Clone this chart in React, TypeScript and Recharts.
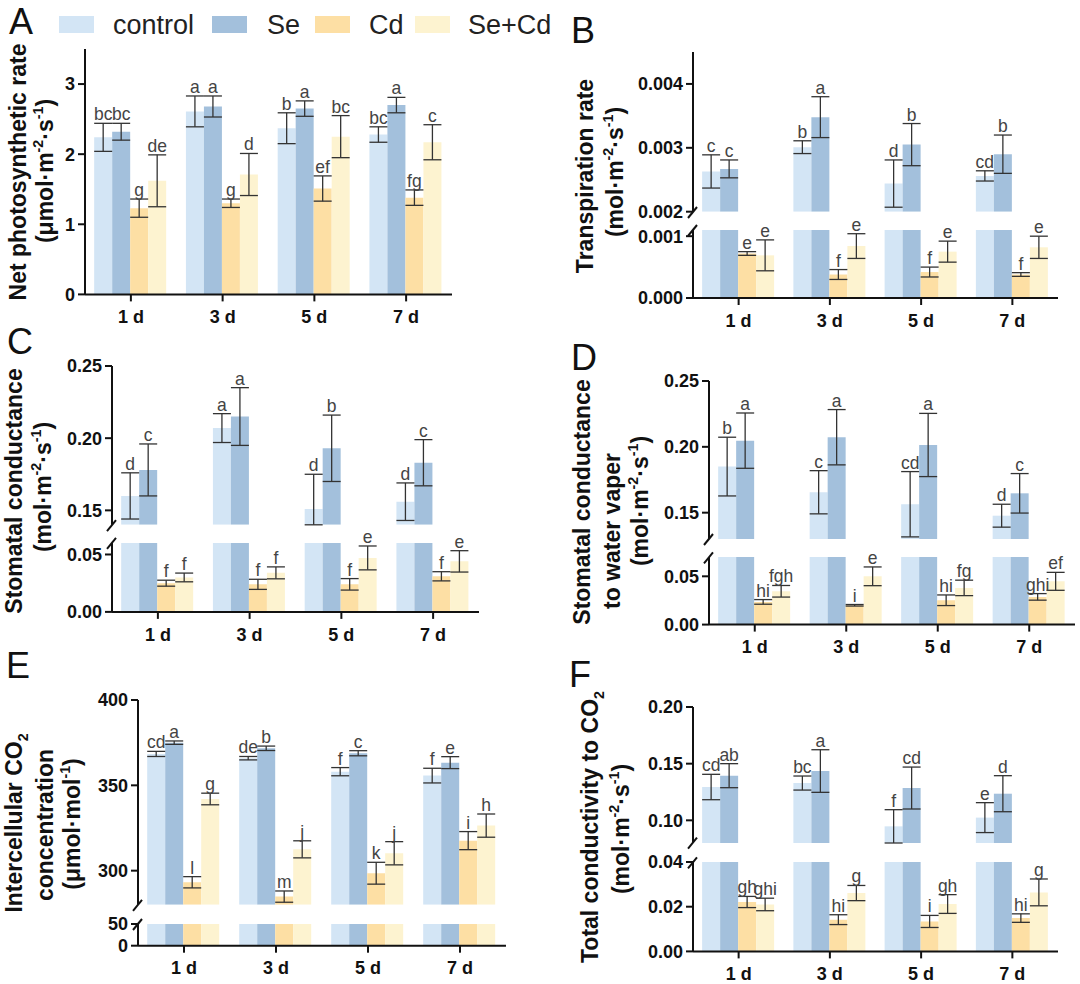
import React from 'react';
import { BarChart, Bar, XAxis, YAxis, ErrorBar, LabelList } from 'recharts';

const days = ['1 d', '3 d', '5 d', '7 d'];
const groups = ['control', 'Se', 'Cd', 'Se+Cd'];
const fills = ['#d3e5f5', '#a3c0dc', '#fddfa4', '#fdf3d0'];

// rows: control, Se, Cd, Se+Cd ; columns: 1 d, 3 d, 5 d, 7 d
// A - net photosynthetic rate
const pnMean = [
  [2.24, 2.61, 2.37, 2.28],
  [2.32, 2.68, 2.65, 2.7],
  [1.23, 1.3, 1.51, 1.38],
  [1.62, 1.71, 2.25, 2.17],
];
const pnErr = [
  [0.2, 0.22, 0.22, 0.11],
  [0.12, 0.15, 0.11, 0.11],
  [0.13, 0.06, 0.18, 0.11],
  [0.37, 0.3, 0.3, 0.25],
];
const pnSig = [
  ['bc', 'a', 'b', 'bc'],
  ['bc', 'a', 'a', 'a'],
  ['g', 'g', 'ef', 'fg'],
  ['de', 'd', 'bc', 'c'],
];

// B - transpiration rate
const trMean = [
  [0.00263, 0.00301, 0.00244, 0.00256],
  [0.00267, 0.00348, 0.00305, 0.0029],
  [0.00072, 0.00038, 0.00042, 0.00038],
  [0.00069, 0.00084, 0.00075, 0.00082],
];
const trErr = [
  [0.00026, 0.0001, 0.00037, 0.00008],
  [0.00014, 0.00032, 0.00033, 0.0003],
  [0.00003, 0.00008, 0.00008, 0.00003],
  [0.00025, 0.0002, 0.00017, 0.00018],
];
const trSig = [
  ['c', 'b', 'd', 'cd'],
  ['c', 'a', 'b', 'b'],
  ['e', 'f', 'f', 'f'],
  ['e', 'e', 'e', 'e'],
];

// C - stomatal conductance
const gsMean = [
  [0.16, 0.207, 0.151, 0.156],
  [0.178, 0.215, 0.193, 0.183],
  [0.025, 0.024, 0.024, 0.031],
  [0.03, 0.034, 0.047, 0.044],
];
const gsErr = [
  [0.016, 0.01, 0.024, 0.013],
  [0.018, 0.02, 0.023, 0.016],
  [0.0026, 0.0044, 0.005, 0.004],
  [0.0038, 0.0052, 0.0104, 0.0093],
];
const gsSig = [
  ['d', 'a', 'd', 'd'],
  ['c', 'a', 'b', 'c'],
  ['f', 'f', 'f', 'f'],
  ['f', 'f', 'e', 'e'],
];

// D - stomatal conductance to water vapour
const gwMean = [
  [0.185, 0.1655, 0.1564, 0.1477],
  [0.2047, 0.2073, 0.2014, 0.1647],
  [0.0235, 0.02, 0.0252, 0.0287],
  [0.0345, 0.05, 0.038, 0.0448],
];
const gwErr = [
  [0.0223, 0.0164, 0.0248, 0.0087],
  [0.021, 0.021, 0.024, 0.015],
  [0.0024, 0.0008, 0.0055, 0.0034],
  [0.006, 0.0097, 0.008, 0.0093],
];
const gwSig = [
  ['b', 'c', 'cd', 'd'],
  ['a', 'a', 'a', 'c'],
  ['hi', 'i', 'hi', 'ghi'],
  ['fgh', 'e', 'fg', 'ef'],
];

// E - intercellular CO2
const ciMean = [
  [368.4, 365.9, 358, 355.7],
  [375, 371.7, 368.8, 363.3],
  [293.2, 284.8, 298.5, 317.6],
  [342, 312.5, 310.2, 326.4],
];
const ciErr = [
  [1.5, 1, 2.4, 4.3],
  [1, 1.3, 1.5, 3.5],
  [3.3, 3.3, 6.4, 5.3],
  [3.4, 5, 6.8, 6.8],
];
const ciSig = [
  ['cd', 'de', 'f', 'f'],
  ['a', 'b', 'c', 'e'],
  ['l', 'm', 'k', 'i'],
  ['g', 'j', 'j', 'h'],
];

// F - total conductivity to CO2
const gtMean = [
  [0.1294, 0.1329, 0.0947, 0.1024],
  [0.1394, 0.1435, 0.1285, 0.1235],
  [0.0221, 0.0142, 0.0134, 0.0149],
  [0.021, 0.0261, 0.0212, 0.0264],
];
const gtErr = [
  [0.0112, 0.0062, 0.0147, 0.0132],
  [0.0106, 0.0188, 0.0185, 0.0159],
  [0.0025, 0.0022, 0.0027, 0.0019],
  [0.0028, 0.0034, 0.0042, 0.006],
];
const gtSig = [
  ['cd', 'bc', 'f', 'e'],
  ['ab', 'a', 'cd', 'd'],
  ['gh', 'hi', 'i', 'hi'],
  ['ghi', 'g', 'gh', 'g'],
];

const FONT = '"Liberation Sans", Arial, sans-serif';
const INK = '#111';

type Seg = { lo: number; hi: number; y0: number; y1: number; ticks: number[]; digits: number };

function makeRows(mean: number[][], err: number[][], sig: string[][], lo: number, hi: number) {
  return days.map((day, j) => {
    const row: Record<string, any> = { day };
    groups.forEach((_, i) => {
      const m = mean[i][j];
      const e = err[i][j];
      const shown = m >= lo;
      const inside = m <= hi;
      row['v' + i] = shown ? Math.min(m, hi) : null;
      // lower whisker stops at the break, like the bars do
      row['e' + i] = shown && inside ? [Math.min(e, m - lo), e] : null;
      row['l' + i] = shown && inside ? sig[i][j] : '';
    });
    return row;
  });
}

function Segment({ rows, seg, x0, x1, axis }: { rows: any[]; seg: Seg; x0: number; x1: number; axis: boolean }) {
  const yw = 76;
  const mt = 40;
  const mb = 46;
  const mr = 4;
  const plotH = seg.y1 - seg.y0;
  const ppu = plotH / (seg.hi - seg.lo);

  const sigLabel = (i: number) => (p: any) => {
    const vb = p.viewBox || {};
    const x = p.x ?? vb.x;
    const y = p.y ?? vb.y;
    const w = p.width ?? vb.width;
    if (!p.value || x == null || y == null) return null;
    const e = rows[p.index]?.['e' + i];
    const up = Array.isArray(e) ? e[1] : 0;
    return (
      <text x={x + w / 2} y={y - up * ppu - 3} textAnchor="middle" fontSize={17.5} fill="#444" fontFamily={FONT}>
        {p.value}
      </text>
    );
  };

  return (
    <div style={{ position: 'absolute', left: x0 - yw, top: seg.y0 - mt }}>
      <BarChart
        width={x1 - x0 + yw + mr}
        height={plotH + mt + mb}
        data={rows}
        margin={{ top: mt, right: mr, bottom: axis ? 0 : mb, left: 0 }}
        barCategoryGap="10%"
        barGap={0}
        style={{ overflow: 'visible' }}
      >
        <XAxis
          dataKey="day"
          hide={!axis}
          height={mb}
          interval={0}
          tickSize={7}
          tickMargin={9}
          axisLine={{ stroke: INK, strokeWidth: 2 }}
          tickLine={{ stroke: INK, strokeWidth: 2 }}
          tick={{ fill: INK, fontSize: 18, fontWeight: 700, fontFamily: FONT }}
        />
        <YAxis
          type="number"
          width={yw}
          domain={[seg.lo, seg.hi]}
          ticks={seg.ticks}
          interval={0}
          allowDataOverflow
          tickFormatter={(v: number) => v.toFixed(seg.digits)}
          tickSize={7}
          tickMargin={3}
          axisLine={{ stroke: INK, strokeWidth: 2 }}
          tickLine={{ stroke: INK, strokeWidth: 2 }}
          tick={{ fill: INK, fontSize: 18, fontWeight: 700, fontFamily: FONT }}
        />
        {groups.map((g, i) => (
          <Bar key={g} dataKey={'v' + i} fill={fills[i]} isAnimationActive={false}>
            <ErrorBar dataKey={'e' + i} width={9} stroke="#333" strokeWidth={1.3} direction="y" />
            <LabelList dataKey={'l' + i} content={sigLabel(i)} />
          </Bar>
        ))}
      </BarChart>
    </div>
  );
}

type Part = { t: string; s?: 'sup' | 'sub' };
const unit = (pre: string): Part[] => [
  { t: pre + 'mol·m' },
  { t: '-2', s: 'sup' },
  { t: '·s' },
  { t: '-1', s: 'sup' },
  { t: ')' },
];

const panels = [
  {
    key: 'A', x0: 85, x1: 452, mean: pnMean, err: pnErr, sig: pnSig,
    segs: [{ lo: 0, hi: 3.5, y0: 49.3, y1: 294.7, ticks: [0, 1, 2, 3], digits: 0 }],
    letter: { x: 9, y: 34 },
    label: [
      { cx: 18, cy: 172, parts: [{ t: 'Net photosynthetic rate' }] },
      { cx: 45, cy: 171, parts: unit('(μ') },
    ],
  },
  {
    key: 'B', x0: 693, x1: 1058, mean: trMean, err: trErr, sig: trSig,
    segs: [
      { lo: 0.002, hi: 0.0045, y0: 52.3, y1: 212, ticks: [0.002, 0.003, 0.004], digits: 3 },
      { lo: 0, hi: 0.0011, y0: 230, y1: 298, ticks: [0, 0.001], digits: 3 },
    ],
    letter: { x: 571, y: 43 },
    label: [
      { cx: 585, cy: 176, parts: [{ t: 'Transpiration rate' }] },
      { cx: 615, cy: 172, parts: unit('(') },
    ],
  },
  {
    key: 'C', x0: 112, x1: 479, mean: gsMean, err: gsErr, sig: gsSig,
    segs: [
      { lo: 0.14, hi: 0.25, y0: 366.3, y1: 525.1, ticks: [0.15, 0.2, 0.25], digits: 2 },
      { lo: 0, hi: 0.06, y0: 542.8, y1: 611.7, ticks: [0, 0.05], digits: 2 },
    ],
    letter: { x: 7, y: 354 },
    label: [
      { cx: 14, cy: 491, parts: [{ t: 'Stomatal conductance' }] },
      { cx: 43, cy: 487, parts: unit('(') },
    ],
  },
  {
    key: 'D', x0: 709, x1: 1075, mean: gwMean, err: gwErr, sig: gwSig,
    segs: [
      { lo: 0.13, hi: 0.25, y0: 381, y1: 539, ticks: [0.15, 0.2, 0.25], digits: 2 },
      { lo: 0, hi: 0.07, y0: 557.4, y1: 625, ticks: [0, 0.05], digits: 2 },
    ],
    letter: { x: 571, y: 370 },
    label: [
      { cx: 582, cy: 502, parts: [{ t: 'Stomatal conductance' }] },
      { cx: 612, cy: 531, parts: [{ t: 'to water vaper' }] },
      { cx: 640, cy: 501, parts: unit('(') },
    ],
  },
  {
    key: 'E', x0: 138, x1: 506, mean: ciMean, err: ciErr, sig: ciSig,
    segs: [
      { lo: 280, hi: 400, y0: 700, y1: 904.8, ticks: [300, 350, 400], digits: 0 },
      { lo: 0, hi: 50, y0: 924, y1: 945.7, ticks: [0, 50], digits: 0 },
    ],
    letter: { x: 6, y: 678 },
    label: [
      { cx: 14, cy: 823, parts: [{ t: 'Intercellular CO' }, { t: '2', s: 'sub' }] },
      { cx: 45, cy: 825, parts: [{ t: 'concentration' }] },
      { cx: 72, cy: 824, parts: [{ t: '(μmol·mol' }, { t: '-1', s: 'sup' }, { t: ')' }] },
    ],
  },
  {
    key: 'F', x0: 693, x1: 1058, mean: gtMean, err: gtErr, sig: gtSig,
    segs: [
      { lo: 0.08, hi: 0.2, y0: 706.7, y1: 842.7, ticks: [0.1, 0.15, 0.2], digits: 2 },
      { lo: 0, hi: 0.04, y0: 862.3, y1: 951.7, ticks: [0, 0.02, 0.04], digits: 2 },
    ],
    letter: { x: 569, y: 687 },
    label: [
      { cx: 590, cy: 827, parts: [{ t: 'Total conductivity to CO' }, { t: '2', s: 'sub' }] },
      { cx: 621, cy: 829, parts: unit('(') },
    ],
  },
];

function RotText({ cx, cy, parts, size }: { cx: number; cy: number; parts: Part[]; size: number }) {
  const shift = (k?: string) => (k === 'sup' ? -size * 0.42 : k === 'sub' ? size * 0.25 : 0);
  let prev: string | undefined;
  const spans = parts.map((p, i) => {
    const dy = shift(p.s) - shift(prev);
    prev = p.s;
    return (
      <tspan key={i} dy={dy} fontSize={p.s ? size * 0.62 : size}>
        {p.t}
      </tspan>
    );
  });
  return (
    <text
      x={cx}
      y={cy + size * 0.35}
      transform={`rotate(-90 ${cx} ${cy})`}
      textAnchor="middle"
      fontWeight={700}
      fontFamily={FONT}
      fill={INK}
    >
      {spans}
    </text>
  );
}

const legendPos = [
  { sx: 59, tx: 113 },
  { sx: 212, tx: 267 },
  { sx: 315, tx: 369 },
  { sx: 415, tx: 468 },
];

export default function App() {
  return (
    <div style={{ position: 'absolute', left: 0, top: 0, width: 1080, height: 984, background: '#fff', fontFamily: FONT }}>
      {panels.map((p) =>
        p.segs.map((s, k) => (
          <Segment
            key={p.key + k}
            rows={makeRows(p.mean, p.err, p.sig, s.lo, s.hi)}
            seg={s}
            x0={p.x0}
            x1={p.x1}
            axis={k === p.segs.length - 1}
          />
        ))
      )}
      <svg width={1080} height={984} style={{ position: 'absolute', left: 0, top: 0, pointerEvents: 'none' }}>
        {groups.map((g, i) => (
          <g key={g}>
            <rect x={legendPos[i].sx} y={16} width={35} height={17} fill={fills[i]} />
            <text x={legendPos[i].tx} y={34} fontSize={27} fontFamily={FONT} fill="#222">
              {g}
            </text>
          </g>
        ))}
        {panels.map((p) => (
          <g key={p.key}>
            <text x={p.letter.x} y={p.letter.y} fontSize={36} fontFamily={FONT} fill={INK}>
              {p.key}
            </text>
            {p.label.map((l, i) => (
              <RotText key={i} cx={l.cx} cy={l.cy} parts={l.parts} size={23} />
            ))}
            {p.segs.length > 1 &&
              [p.segs[0].y1, p.segs[1].y0].map((y, i) => (
                <line key={i} x1={p.x0 - 5} y1={y + 6} x2={p.x0 + 4} y2={y - 5} stroke={INK} strokeWidth={2} />
              ))}
          </g>
        ))}
      </svg>
    </div>
  );
}
